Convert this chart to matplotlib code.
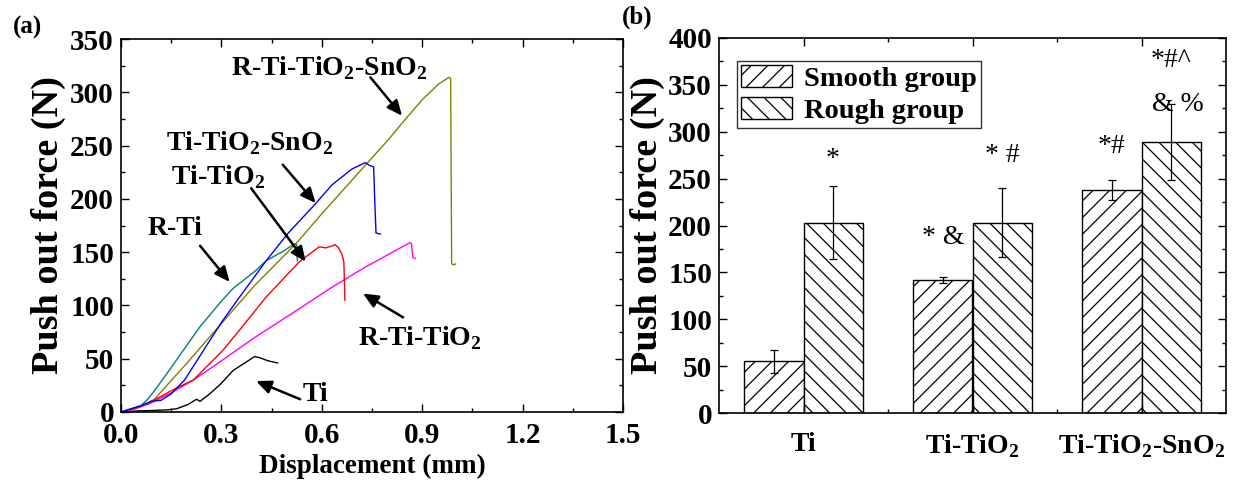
import matplotlib
matplotlib.use("Agg")
import matplotlib.pyplot as plt
from matplotlib.ticker import MultipleLocator, FixedLocator

plt.rcParams['font.family'] = ['Liberation Serif', 'DejaVu Serif']
plt.rcParams['mathtext.fontset'] = 'custom'
plt.rcParams['mathtext.rm'] = 'Liberation Serif'
plt.rcParams['mathtext.bf'] = 'Liberation Serif:bold'
plt.rcParams['hatch.linewidth'] = 0.9

# ---- Panel (a): push-out curves ----
ti_x = [0.0, 0.05, 0.10, 0.137, 0.166, 0.20, 0.226, 0.236, 0.265, 0.30, 0.335, 0.37, 0.399, 0.414, 0.44, 0.468]
ti_y = [0, 1, 1.5, 2, 3, 7, 12, 10, 17, 27, 39, 46, 52, 51, 48, 46]

rti_x = [0.0, 0.03, 0.06, 0.08, 0.10, 0.137, 0.20, 0.236, 0.30, 0.335, 0.40, 0.434, 0.48, 0.52, 0.525, 0.527]
rti_y = [0, 3, 6, 12, 20, 36, 64, 80, 104, 116, 132, 142, 150, 158, 157, 142]

titio2_x = [0.0, 0.04, 0.087, 0.15, 0.216, 0.305, 0.37, 0.434, 0.50, 0.533, 0.592, 0.612, 0.632, 0.64, 0.65, 0.66, 0.666, 0.669]
titio2_y = [0, 3, 9, 20, 30, 58, 83, 108, 130, 141, 155, 154, 156, 157, 154, 148, 141, 105]

rtitio2_x = [0.0, 0.04, 0.087, 0.15, 0.216, 0.30, 0.40, 0.533, 0.63, 0.73, 0.80, 0.864, 0.868, 0.872, 0.879]
rtitio2_y = [0, 3, 8, 18, 30, 48, 70, 97, 117, 136, 148, 159, 158, 145, 144]

sno2_x = [0.0, 0.03, 0.06, 0.09, 0.12, 0.15, 0.19, 0.255, 0.30, 0.35, 0.434, 0.50, 0.58, 0.63, 0.69, 0.73, 0.745, 0.755, 0.758, 0.762, 0.775]
sno2_y = [0, 3, 6, 10, 11, 17, 30, 62, 84, 106, 142, 168, 195, 213, 228, 234, 231, 230, 200, 168, 167]

rsno2_x = [0.0, 0.03, 0.06, 0.10, 0.20, 0.30, 0.40, 0.523, 0.60, 0.70, 0.80, 0.845, 0.90, 0.95, 0.98, 0.985, 0.988, 0.995, 1.0]
rsno2_y = [0, 2, 5, 12, 47, 83, 119, 158, 186, 221, 256, 273, 293, 308, 314, 313, 139, 138, 139]

# ---- Panel (b): bar chart ----
groups = ['Ti', 'Ti-TiO$_\\mathbf{2}$', 'Ti-TiO$_\\mathbf{2}$-SnO$_\\mathbf{2}$']
smooth_mean = [55, 142, 238]
smooth_err = [12.5, 3.5, 11]
rough_mean = [203, 203, 289]
rough_err = [39, 36.5, 40.5]
sig_smooth = ['', '* &', '*#']
sig_smooth_y = [0, 187, 284]
sig_rough = ['*', '* #', '*#^']
sig_rough_y = [270, 275, 376]
extra_label = '& %'
extra_y = 329

TICK = 21
fig = plt.figure(figsize=(12.41, 4.95), dpi=100)
ax1 = fig.add_axes([121/1241, 1-412/495, (623-121)/1241, (412-39)/495])
ax2 = fig.add_axes([719/1241, 1-413/495, (1226-719)/1241, (413-38)/495])

curves = [
    (ti_x, ti_y, 'black'),
    (rti_x, rti_y, '#008080'),
    (rsno2_x, rsno2_y, '#808000'),
    (rtitio2_x, rtitio2_y, '#ff00ff'),
    (titio2_x, titio2_y, '#ff0000'),
    (sno2_x, sno2_y, '#0000ff'),
]
for xs, ys, c in curves:
    ax1.plot(xs, ys, color=c, lw=1.0)

ax1.set_xlim(0, 1.5)
ax1.set_ylim(0, 350)
ax1.xaxis.set_major_locator(MultipleLocator(0.3))
ax1.xaxis.set_minor_locator(MultipleLocator(0.15))
ax1.yaxis.set_major_locator(MultipleLocator(50))
ax1.yaxis.set_minor_locator(MultipleLocator(25))
ax1.xaxis.set_major_formatter(plt.FuncFormatter(lambda v, p: f"{v:.1f}"))
for ax in (ax1, ax2):
    ax.tick_params(which='both', direction='in', top=True, right=True, width=1)
    ax.tick_params(which='major', length=6)
    ax.tick_params(which='minor', length=3)
    for s in ax.spines.values():
        s.set_linewidth(1.2)
ax1.tick_params(axis='y', which='major', labelsize=TICK, pad=5)
ax1.tick_params(axis='x', which='major', labelsize=TICK, pad=7)
for lab in ax1.get_xticklabels() + ax1.get_yticklabels():
    lab.set_fontweight('bold')
ax1.set_xlabel('Displacement (mm)', fontsize=19.5, fontweight='bold', labelpad=4)
ax1.set_ylabel('Push out force (N)', fontsize=27.5, fontweight='bold', labelpad=3)

akw = dict(arrowstyle='-|>,head_length=0.9,head_width=0.4', color='black', lw=1.8)
tkw = dict(fontsize=20, fontweight='bold', ha='center', va='center')
ann = [
    ('R-Ti-TiO$_\\mathbf{2}$-SnO$_\\mathbf{2}$', (0.622, 323), (0.74, 316), (0.845, 276)),
    ('Ti-TiO$_\\mathbf{2}$-SnO$_\\mathbf{2}$', (0.384, 252), (0.478, 234), (0.587, 194)),
    ('Ti-TiO$_\\mathbf{2}$', (0.29, 220), (0.384, 212), (0.557, 139)),
    ('R-Ti', (0.161, 172), (0.231, 158), (0.33, 120)),
    ('R-Ti-TiO$_\\mathbf{2}$', (0.894, 69), (0.85, 87.5), (0.716, 112.5)),
    ('Ti', (0.58, 16), (0.543, 11), (0.396, 30)),
]
for txt, tpos, start, tip in ann:
    ax1.annotate('', xy=tip, xytext=start, arrowprops=akw)
    ax1.text(tpos[0], tpos[1], txt, **tkw)

# Bars
pos = [1, 2, 3]
w = 0.35
ax2.bar([p - w/2 for p in pos], smooth_mean, w, yerr=smooth_err, color='white',
        edgecolor='black', hatch='//', lw=1.0, label='Smooth group',
        error_kw=dict(ecolor='black', elinewidth=0.9, capsize=3, capthick=0.9))
ax2.bar([p + w/2 for p in pos], rough_mean, w, yerr=rough_err, color='white',
        edgecolor='black', hatch='\\\\', lw=1.0, label='Rough group',
        error_kw=dict(ecolor='black', elinewidth=0.9, capsize=3, capthick=0.9))
ax2.set_xlim(0.5, 3.5)
ax2.set_ylim(0, 400)
ax2.xaxis.set_major_locator(FixedLocator(pos))
ax2.xaxis.set_minor_locator(FixedLocator([1.5, 2.5]))
ax2.set_xticklabels(groups)
ax2.yaxis.set_major_locator(MultipleLocator(50))
ax2.yaxis.set_minor_locator(MultipleLocator(25))
ax2.tick_params(axis='y', which='major', labelsize=TICK, pad=5)
ax2.tick_params(axis='x', which='major', labelsize=20, pad=14)
for lab in ax2.get_xticklabels() + ax2.get_yticklabels():
    lab.set_fontweight('bold')
ax2.set_ylabel('Push out force (N)', fontsize=27.5, fontweight='bold', labelpad=2)

for p, s, y in zip(pos, sig_smooth, sig_smooth_y):
    if s:
        ax2.text(p - w/2, y, s, fontsize=20, ha='center', va='center')
for p, s, y in zip(pos, sig_rough, sig_rough_y):
    ax2.text(p + w/2, y, s, fontsize=20, ha='center', va='center')
ax2.text(3 + w/2 + 0.04, extra_y, extra_label, fontsize=20, ha='center', va='center')

leg = ax2.legend(loc='upper left', bbox_to_anchor=(0.035, 0.94), prop={'weight': 'bold', 'size': 20.5},
                 frameon=True, fancybox=False, edgecolor='black', handlelength=1.8,
                 handleheight=0.8, borderpad=0.15, labelspacing=0.2, handletextpad=0.4,
                 borderaxespad=0)
leg.get_frame().set_linewidth(1.0)

fig.text(28/1241, 1-27/495, '(a)', fontsize=18, fontweight='bold', ha='center', va='center')
fig.text(637/1241, 1-17/495, '(b)', fontsize=18, fontweight='bold', ha='center', va='center')

fig.savefig('out.png', dpi=100)
